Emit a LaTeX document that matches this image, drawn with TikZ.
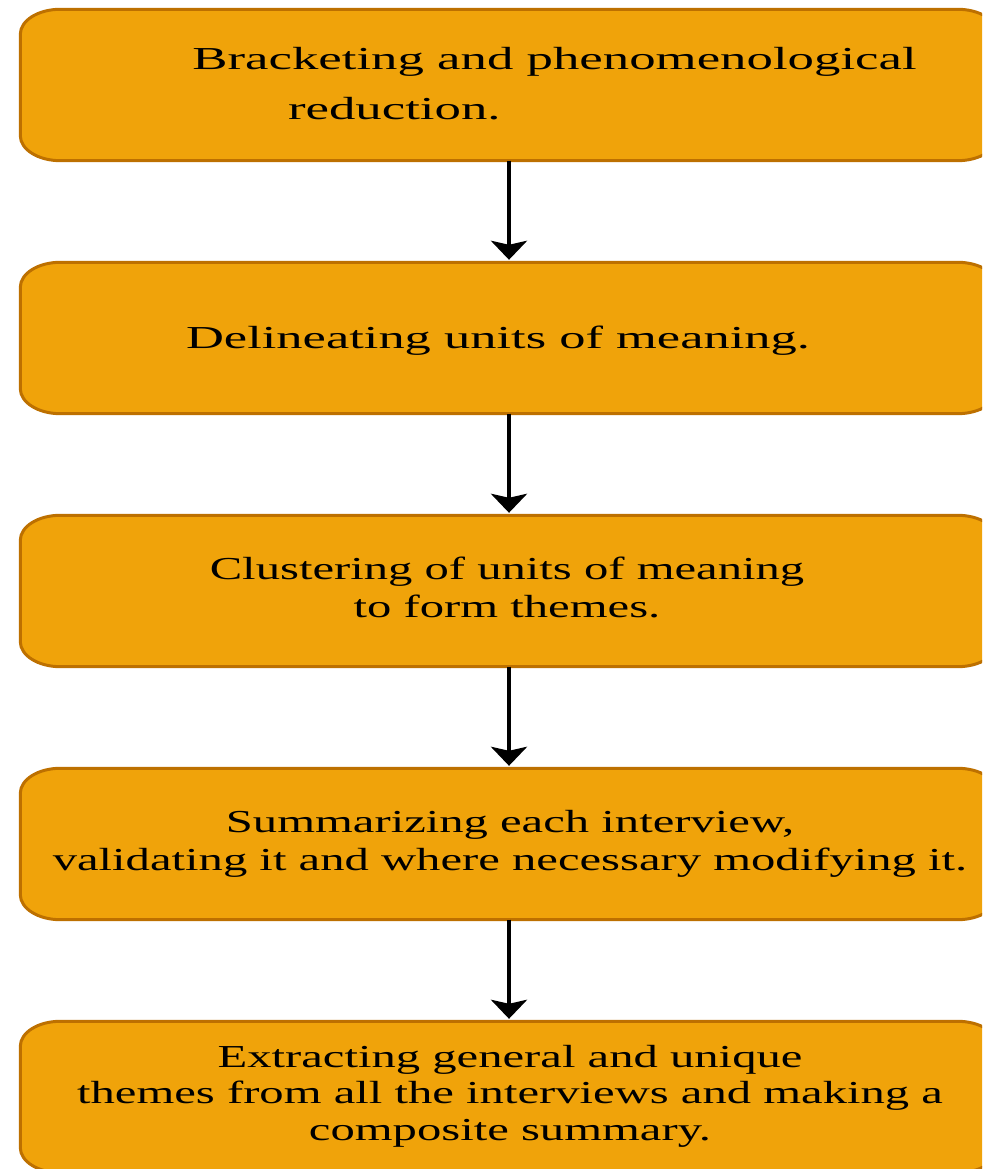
\documentclass[tikz,border=0pt]{standalone}
\usepackage{fontspec}
\setmainfont{Liberation Serif}
\usetikzlibrary{arrows.meta}

\definecolor{stepfill}{HTML}{F0A30A}
\definecolor{stepline}{HTML}{BD7000}

% Rounded box with elliptical corners drawn round an (empty) named node
\newcommand\stepoutline[1]{%
  \draw[boxline]
    ([xshift=40pt]#1.north west) -- ([xshift=-40pt]#1.north east)
    arc[start angle=90, end angle=0, x radius=40pt, y radius=25pt]
    -- ([yshift=25pt]#1.south east)
    arc[start angle=0, end angle=-90, x radius=40pt, y radius=25pt]
    -- ([xshift=40pt]#1.south west)
    arc[start angle=270, end angle=180, x radius=40pt, y radius=25pt]
    -- ([yshift=-25pt]#1.north west)
    arc[start angle=180, end angle=90, x radius=40pt, y radius=25pt]
    -- cycle;}

\tikzset{
  stepbox/.style={rectangle, inner sep=0pt, minimum width=977pt, minimum height=151pt},
  boxline/.style={fill=stepfill, draw=stepline, line width=3pt},
  steptext/.style={inner sep=0pt, text=black, transform shape,
    execute at begin node={\rule{0pt}{24pt}}},
  flow/.style={draw=black, line width=4.5pt,
    -{Stealth[width=36pt, length=19pt, inset=4pt]}, shorten >=2.5pt}
}

\begin{document}
\begin{tikzpicture}[x=1pt, y=1pt]
  \useasboundingbox (0,0) rectangle (982,1169);
  \clip (0,0) rectangle (982,1169);

  % step boxes
  \node[stepbox] (b1) at (509,1084) {};
  \node[stepbox] (b2) at (509,831) {};
  \node[stepbox] (b3) at (509,578) {};
  \node[stepbox] (b4) at (509,325) {};
  \node[stepbox] (b5) at (509,72) {};
  \foreach \b in {b1,b2,b3,b4,b5} {\stepoutline{\b}}

  % step texts
  \node[steptext, anchor=north west, align=left, xscale=1.65,
        font=\fontsize{32}{50}\selectfont] (t1) at (192,1122.3)
    {Bracketing and phenomenological\\\hspace*{58pt}reduction.};
  \node[steptext, anchor=north, xscale=1.64,
        font=\fontsize{32}{38}\selectfont] (t2) at (498,844.7)
    {Delineating units of meaning.};
  \node[steptext, anchor=north, align=center, xscale=1.52,
        font=\fontsize{32}{38}\selectfont] (t3) at (507,612)
    {Clustering of units of meaning\\to form themes.};
  \node[steptext, anchor=north, align=center, xscale=1.52,
        font=\fontsize{32}{37.5}\selectfont] (t4) at (510,358.7)
    {Summarizing each interview,\\validating it and where necessary modifying it.};
  \node[steptext, anchor=north, align=center, xscale=1.52,
        font=\fontsize{32}{36.2}\selectfont] (t5) at (510,123.7)
    {Extracting general and unique\\themes from all the interviews and making a\\composite summary.};

  % connectors
  \draw[flow] (b1.south) -- (b2.north);
  \draw[flow] (b2.south) -- (b3.north);
  \draw[flow] (b3.south) -- (b4.north);
  \draw[flow] (b4.south) -- (b5.north);
\end{tikzpicture}
\end{document}
